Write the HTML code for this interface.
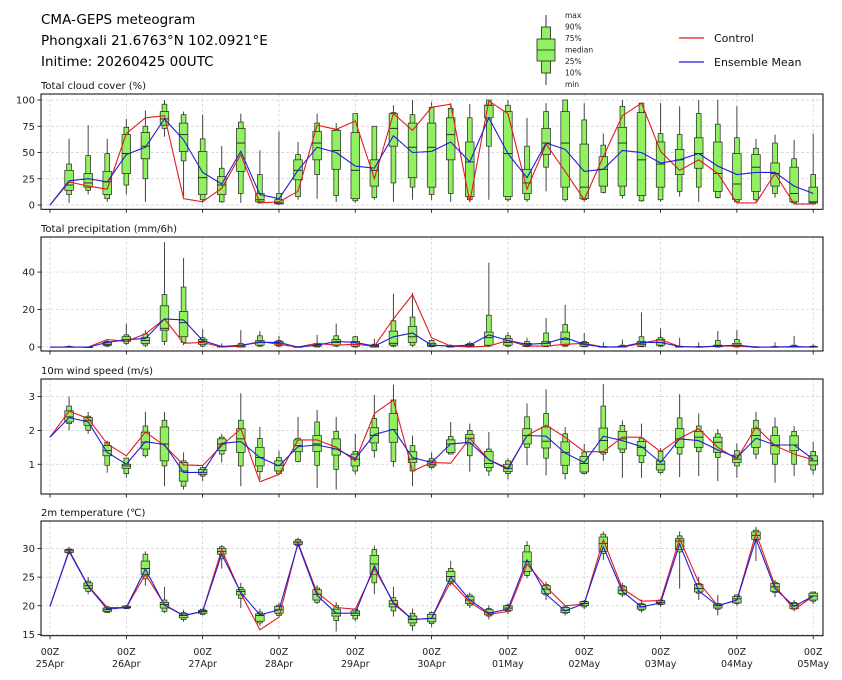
<!DOCTYPE html>
<html><head><meta charset="utf-8"><style>
html,body{margin:0;padding:0;background:#fff;}
svg{display:block;font-family:"DejaVu Sans","Liberation Sans",sans-serif;}
</style></head><body>
<svg id="chart" width="842" height="680" viewBox="0 0 842 680">
<text x="41" y="24" font-size="13.5" fill="#000">CMA-GEPS meteogram</text>
<text x="41" y="45" font-size="13.5" fill="#000">Phongxali 21.6763°N 102.0921°E</text>
<text x="41" y="66" font-size="13.5" fill="#000">Initime: 20260425 00UTC</text>
<g>
<line x1="546" y1="15" x2="546" y2="85" stroke="#333" stroke-width="1"/>
<rect x="541.5" y="27" width="9" height="46" fill="#90f060" stroke="#222" stroke-width="0.8"/>
<rect x="537" y="39" width="18" height="22" fill="#90f060" stroke="#222" stroke-width="0.8"/>
<line x1="537" y1="50" x2="555" y2="50" stroke="#222" stroke-width="0.8"/>
<g font-size="7.5" fill="#222">
<text x="565" y="18">max</text><text x="565" y="29.5">90%</text><text x="565" y="41">75%</text><text x="565" y="52.5">median</text><text x="565" y="64">25%</text><text x="565" y="75.5">10%</text><text x="565" y="87">min</text>
</g></g>
<g>
<line x1="679" y1="38" x2="704" y2="38" stroke="#e41a1c" stroke-width="1.2"/>
<text x="714" y="42" font-size="11" fill="#111">Control</text>
<line x1="679" y1="62" x2="704" y2="62" stroke="#1f1fd6" stroke-width="1.2"/>
<text x="714" y="66" font-size="11" fill="#111">Ensemble Mean</text>
</g>
</svg>
<script>
// ---- data (step 0..40 every 6h; boxes at steps 1..40) ----
const dayLabels = ["25Apr","26Apr","27Apr","28Apr","29Apr","30Apr","01May","02May","03May","04May","05May"];
// cloud cover
const cloudMax=[63,76,63,82,90,100,89,86,56,87,52,70,60,87,78,87,75,95,100,98,97,96,100,100,83,97,100,97,68,100,97,97,94,100,100,94,63,67,62,68];
const cloudP90=[39,47,49,74,75,96,86,63,35,79,29,11,48,78,72,87,75,88,86,93,92,83,100,95,56,89,100,81,57,94,97,68,67,87,77,64,54,59,44,29];
const cloudP75=[33,30,32,67,69,89,78,51,27,73,11,5,43,70,71,69,43,87,78,78,83,60,95,89,34,73,89,58,46,74,88,60,53,64,60,49,48,40,36,17];
const cloudMed=[19,21,22,49,56,82,67,26,19,59,5,2,33,59,52,33,33,73,55,55,67,41,95,49,21,59,59,17,34,59,43,39,43,49,30,20,36,30,11,3];
const cloudP25=[14,17,10,30,44,76,51,10,10,32,3,1,24,43,34,6,18,56,26,17,43,8,83,8,11,48,17,6,18,18,9,17,29,35,13,5,13,18,3,2];
const cloudP10=[10,14,6,19,25,73,42,5,3,11,2,1,8,29,9,4,7,21,17,10,11,5,56,5,5,36,5,5,12,9,4,5,13,17,7,3,5,11,2,1];
const cloudMin=[2,10,3,10,3,65,8,2,2,2,1,0,5,6,3,2,5,3,5,5,3,3,5,3,3,13,3,3,11,6,3,3,8,3,6,2,3,7,2,1];
const cloudCtrl=[0,22,18,15,68,83,85,6,3,16,48,2,3,13,76,72,80,25,87,71,93,96,3,99,87,15,58,32,5,46,85,97,51,33,43,30,2,2,30,1,1];
const cloudMean=[0,23,25,22,48,55,82,62,31,20,51,10,6,33,55,50,37,35,66,50,51,60,41,83,49,26,59,53,32,34,52,50,40,43,49,37,29,31,31,18,11];
// precipitation
const precMax=[1,0.3,4,12.5,9,56,47.5,9.5,2,9,8.5,6,0.5,6.5,12.5,6,4.5,28.5,29,4,1.5,3,45,8,5,15.5,22.5,7.5,2.5,4,18.5,10,5,2.5,8.5,9,0.5,2.5,6,1.5];
const precP90=[0.3,0.1,3,6.5,7,28,32,5,0.5,2,6,3.5,0.2,2,6,5.5,1.5,14,16,3.5,0.8,2,17,6,3,7.5,12,3,0.3,1,5.5,5,0.5,0.3,3.5,4,0.2,0.3,1,0.5];
const precP75=[0.2,0,2.5,5.5,5,22,19,4,0.3,1,3.5,3,0.1,1.5,4,3,1,8.5,11,2,0.5,1.5,8,4.5,2,3,8,2.5,0.2,0.5,3,4,0.3,0.2,1,2,0.1,0.2,0.5,0.3];
const precMed=[0.1,0,1.5,4,3.5,10,13,3,0.2,0.5,2.5,2,0,1,2.5,1.5,0.5,2,5.5,1,0.3,1,5,2.5,1,2,4,1.5,0.1,0.2,1.5,2.5,0.1,0.1,0.5,1,0,0.1,0.2,0.1];
const precP25=[0,0,1,3,2,9,5.5,1.5,0.1,0,1,1,0,0.5,1,0.5,0,1,2.5,0.5,0.1,0.5,1,1,0.5,0.5,1,0.5,0,0,0.5,1,0,0,0.2,0.3,0,0,0,0];
const precP10=[0,0,0.5,2,1,3,2.5,0.5,0,0,0.5,0.5,0,0,0.5,0,0,0.5,1,0.2,0,0.2,0.5,0.5,0.2,0.2,0.5,0.2,0,0,0.2,0.5,0,0,0,0,0,0,0,0];
const precMin=[0,0,0,1,0,1,1,0,0,0,0,0,0,0,0,0,0,0,0,0,0,0,0,0,0,0,0,0,0,0,0,0,0,0,0,0,0,0,0,0];
const precCtrl=[0,0,0,4,3,7,15,2,2.5,0,0.5,3,1.5,0,2,1,1.5,0.5,15,28,5,0.5,0,0.5,3.5,0.5,0.5,1.5,2,0,0,2,4,0.3,0,0.5,0.5,0,0,0,0];
const precMean=[0,0,0,2.5,4,4.5,15,14.5,3.5,0.3,1,2.5,2.5,0,1,3,2.5,0.5,5.5,7.5,1,0.5,1,6.5,3.5,1.5,2,5,1.5,0,0.2,2.5,2.5,0.3,0,0.5,1,0,0,0.3,0];
// wind speed
const windMax=[3.0,2.55,1.7,1.2,2.55,2.55,1.35,0.95,1.9,3.1,2.1,1.4,2.4,2.6,2.4,1.9,3.05,3.35,1.85,1.35,2.25,2.2,1.95,1.18,2.8,3.22,2.1,1.6,3.37,2.3,2.2,1.48,3.07,2.5,2.04,1.62,2.55,2.38,2.13,1.66];
const windP90=[2.72,2.42,1.65,1.18,2.13,2.3,1.1,0.9,1.8,2.3,1.76,1.2,1.77,2.25,1.97,1.38,2.35,2.9,1.55,1.17,1.82,2.0,1.45,1.1,2.4,2.5,1.9,1.36,2.72,2.15,1.77,1.38,2.37,2.13,1.9,1.4,2.3,2.1,1.97,1.38];
const windP75=[2.58,2.38,1.55,1.0,1.95,2.1,1.05,0.85,1.75,2.05,1.5,1.1,1.72,1.85,1.75,1.3,2.08,2.5,1.37,1.1,1.72,1.88,1.38,1.0,2.05,2.1,1.66,1.23,2.07,1.97,1.67,1.1,2.05,1.97,1.8,1.27,2.05,1.85,1.84,1.25];
const windMed=[2.4,2.3,1.4,0.95,1.65,1.6,0.8,0.75,1.6,1.75,1.2,0.97,1.55,1.6,1.45,1.15,1.85,2.02,1.15,1.0,1.6,1.77,1.02,0.88,1.85,1.68,1.35,1.02,1.7,1.75,1.5,1.0,1.75,1.8,1.65,1.15,1.85,1.55,1.57,1.1];
const windP25=[2.25,2.15,1.25,0.88,1.45,1.1,0.5,0.7,1.4,1.35,0.95,0.8,1.37,1.38,1.27,0.95,1.63,1.65,1.05,0.95,1.35,1.6,0.9,0.78,1.6,1.48,0.97,0.77,1.35,1.45,1.25,0.83,1.5,1.5,1.35,1.05,1.5,1.3,1.4,0.98];
const windP10=[2.2,2.0,0.97,0.72,1.25,0.95,0.35,0.65,1.3,0.95,0.78,0.72,1.08,0.97,0.85,0.8,1.4,1.08,0.8,0.9,1.3,1.25,0.8,0.72,1.5,1.18,0.72,0.72,1.3,1.35,1.05,0.75,1.3,1.37,1.2,0.95,1.3,1.0,1.0,0.83];
const windMin=[2.0,1.9,0.75,0.6,1.2,0.35,0.25,0.5,1.05,0.35,0.55,0.68,1.05,0.3,0.25,0.7,1.2,0.92,0.35,0.85,1.3,0.78,0.65,0.55,0.97,0.67,0.55,0.7,1.1,0.6,0.6,0.7,0.62,0.65,0.5,0.6,1.15,0.45,0.65,0.7];
const windCtrl=[1.8,2.57,2.35,1.6,1.25,1.95,1.55,0.98,0.96,1.55,2.05,0.48,0.7,1.72,1.72,1.5,1.1,2.5,2.9,0.8,1.05,1.03,1.77,1.13,0.88,1.85,2.15,1.8,1.37,1.37,1.8,1.8,1.37,1.77,2.05,1.5,1.15,2.1,1.55,1.3,1.13];
const windMean=[1.8,2.38,2.25,1.35,1.0,1.67,1.58,0.76,0.76,1.62,1.67,1.2,0.95,1.52,1.57,1.45,1.17,1.88,2.03,1.2,1.05,1.6,1.65,1.13,0.85,1.85,1.83,1.33,1.05,1.83,1.7,1.52,1.05,1.75,1.7,1.42,1.2,1.77,1.57,1.57,1.15];
// temperature
const tempMax=[30.3,25,20,20.1,29.5,23.3,19.3,19.5,30.6,24,19.5,20.5,31.9,23.6,20.6,19.6,30.5,23.3,19.5,19,27.8,22.3,20.1,20.4,31.3,24.2,20.1,21,33,24,21.1,21.2,33,25.1,21.9,22,33.8,24.5,21,22.4];
const tempP90=[29.9,24.3,19.8,20,29,21,18.8,19.4,30.3,23.2,18.9,20.1,31.6,23.1,20,19.4,29.8,21.4,18.7,18.8,26.5,21.9,19.5,20.1,30.5,23.7,19.8,20.8,32.5,23.5,20.4,21,32.2,23.9,20.4,21.9,33.2,24.1,20.6,22.4];
const tempP75=[29.8,24,19.6,19.9,27.8,20.6,18.6,19.2,30,22.8,18.6,19.9,31.3,22.8,19.4,19.1,28.8,20.9,18.2,18.5,26,21.6,19.3,20,29.4,23.5,19.7,20.7,32,23.3,20.2,20.9,31.7,23.7,20.3,21.6,32.9,23.9,20.4,22.2];
const tempMed=[29.6,23.5,19.3,19.7,26.5,20.2,18.3,19,29.5,22.5,18.3,19.3,31,22,18.7,18.7,27.3,20.3,17.6,17.8,25.1,21,18.8,19.6,27.7,22.9,19.2,20.4,30.9,22.7,19.8,20.6,31.3,23,20,21.2,32.3,23.3,20,21.7];
const tempP25=[29.3,23,19,19.6,25.5,19.6,17.9,18.7,29,21.9,17.3,18.7,30.7,21,18.2,18.3,25.5,19.8,17,17.2,24.3,20.4,18.4,19.2,26,22.1,18.8,20,29.5,22.1,19.4,20.3,29.8,22.4,19.6,20.5,31.6,22.5,19.5,21];
const tempP10=[29.2,22.5,18.8,19.5,24.7,19,17.6,18.5,28.2,21.3,17,18.3,30.5,20.6,17.4,17.7,24,19.1,16.5,16.9,23.9,20.1,18.2,19,25.3,21.9,18.7,19.8,29.1,21.9,19.2,20.2,29.4,22.2,19.4,20.4,31.4,22.3,19.4,20.8];
const tempMin=[29,22,18.7,19.4,23.5,18.7,17.2,18.3,26.5,19.6,16.5,18,30.3,20.3,15.5,17.3,22,18.1,15.6,16.3,23.5,19.6,17.6,18.5,24.8,21,18.3,19.4,28,21.5,18.8,19.8,23,21,18.3,20,27.8,21.5,19,20.3];
const tempCtrl=[19.9,29.7,23.5,19.7,19.7,25.5,20.2,18.3,19,29.8,22.2,15.8,18,31,22.3,19.7,19.4,26.5,20.6,17.6,17.8,24.2,20.6,18.5,19,27.3,23.3,20,20.3,31.5,23,20.8,20.9,31.7,24.1,20,21,32.7,23.5,19.3,21.7];
const tempMean=[19.9,29.5,23.4,19.4,19.7,26.4,20.1,18.3,19,29,22.3,18.4,19.3,30.8,21.8,18.7,18.7,27,20.4,17.6,17.8,25,21,18.7,19.4,28,22,19.1,20.4,30.3,22.5,19.8,20.5,30.8,22.6,20,21,31.7,23,19.9,21.7];
const cloudTicks=[0,25,50,75,100];
const precTicks=[0,20,40];
const windTicks=[1,2,3];
const tempTicks=[15,20,25,30];

const NS="http://www.w3.org/2000/svg";
const svg=document.getElementById('chart');
const L=41, R=823;
function xStep(i){return 50+19.08*i;}
function mk(tag,attrs,parent){const e=document.createElementNS(NS,tag);for(const k in attrs)e.setAttribute(k,attrs[k]);(parent||svg).appendChild(e);return e;}

const panels=[
 {name:'cloud',title:'Total cloud cover (%)',top:94,bot:209.3,vmin:-4.1,vmax:105.7,ticks:cloudTicks,mx:cloudMax,p90:cloudP90,p75:cloudP75,med:cloudMed,p25:cloudP25,p10:cloudP10,mn:cloudMin,ctrl:cloudCtrl,mean:cloudMean,xl:false},
 {name:'precip',title:'Total precipitation (mm/6h)',top:237,bot:351,vmin:-2.1,vmax:58.7,ticks:precTicks,mx:precMax,p90:precP90,p75:precP75,med:precMed,p25:precP25,p10:precP10,mn:precMin,ctrl:precCtrl,mean:precMean,xl:false},
 {name:'wind',title:'10m wind speed (m/s)',top:379,bot:494,vmin:0.12,vmax:3.52,ticks:windTicks,mx:windMax,p90:windP90,p75:windP75,med:windMed,p25:windP25,p10:windP10,mn:windMin,ctrl:windCtrl,mean:windMean,xl:false},
 {name:'temp',title:'2m temperature (\u2103)',top:521,bot:635.7,vmin:14.77,vmax:34.8,ticks:tempTicks,mx:tempMax,p90:tempP90,p75:tempP75,med:tempMed,p25:tempP25,p10:tempP10,mn:tempMin,ctrl:tempCtrl,mean:tempMean,xl:true}
];

panels.forEach(p=>{
 const y=v=>p.bot-(v-p.vmin)/(p.vmax-p.vmin)*(p.bot-p.top);
 const g=mk('g',{});
 
 
 const t=mk('text',{x:L,y:p.top-5,'font-size':'10',fill:'#111'},g);
 t.textContent=p.title;
 
 
 p.ticks.forEach(v=>{
  const gl=mk('line',{x1:L,x2:R,y1:y(v),y2:y(v),stroke:'#d0d0d0','stroke-width':'0.7','stroke-dasharray':'3,2'},g);
  
  
  mk('line',{x1:L-3.5,x2:L,y1:y(v),y2:y(v),stroke:'#000','stroke-width':'0.8'},g);
  const lt=mk('text',{x:L-6,y:y(v)+3.6,'font-size':'10',fill:'#222','text-anchor':'end'},g);
  lt.textContent=v;
  
  
 });
 dayLabels.forEach((d,k)=>{
  const x=xStep(k*4);
  mk('line',{x1:x,x2:x,y1:p.top,y2:p.bot,stroke:'#d0d0d0','stroke-width':'0.7','stroke-dasharray':'3,2'},g);
  mk('line',{x1:x,x2:x,y1:p.bot,y2:p.bot+3.5,stroke:'#000','stroke-width':'0.8'},g);
  if(p.xl){
   const a=mk('text',{x:x,y:655,'font-size':'9.5','text-anchor':'middle',fill:'#222'},g);
   a.textContent='00Z';
   
   
   const b=mk('text',{x:x,y:667,'font-size':'9.5','text-anchor':'middle',fill:'#222'},g);
   b.textContent=d;
   
   
  }
 });
 p.med.forEach((m,j)=>{
  const i=j+1, x=xStep(i);
  const bg=mk('g',{},g);
  
  
  mk('line',{x1:x,x2:x,y1:y(p.mn[j]),y2:y(p.mx[j]),stroke:'#444','stroke-width':'1'},bg);
  const n1=y(p.p90[j]),n2=y(p.p10[j]);
  mk('rect',{x:x-2.4,y:n1,width:4.8,height:Math.max(0.5,n2-n1),fill:'#90f060',stroke:'#222','stroke-width':'0.7'},bg);
  const w1=y(p.p75[j]),w2=y(p.p25[j]);
  mk('rect',{x:x-4.3,y:w1,width:8.6,height:Math.max(0.5,w2-w1),fill:'#90f060',stroke:'#222','stroke-width':'0.7'},bg);
  mk('line',{x1:x-4.3,x2:x+4.3,y1:y(m),y2:y(m),stroke:'#222','stroke-width':'0.9'},bg);
 });
 const pts=a=>a.map((v,i)=>xStep(i).toFixed(1)+','+y(v).toFixed(1)).join(' ');
 const cl=mk('polyline',{points:pts(p.ctrl),fill:'none',stroke:'#e41a1c','stroke-width':'1.1'},g);
 
 
 const ml=mk('polyline',{points:pts(p.mean),fill:'none',stroke:'#1f1fd6','stroke-width':'1.1'},g);
 
 
 const fr=mk('rect',{x:L,y:p.top,width:R-L,height:p.bot-p.top,fill:'none',stroke:'#000','stroke-width':'1'},g);
 
 
});
</script>
</body></html>
